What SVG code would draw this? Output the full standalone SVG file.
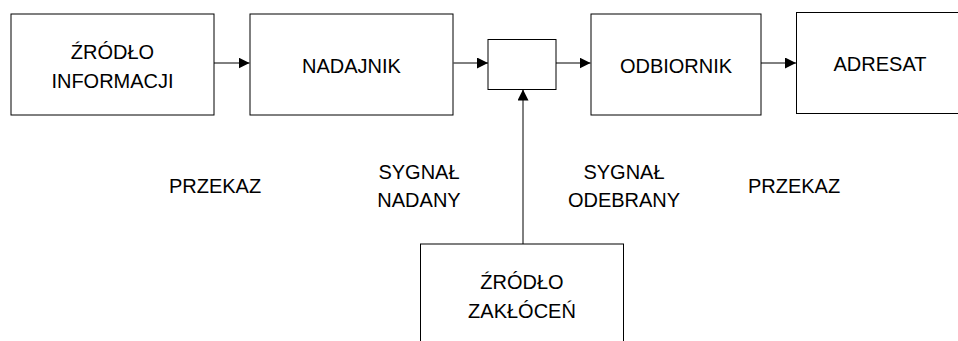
<svg xmlns="http://www.w3.org/2000/svg" width="958" height="341" viewBox="0 0 958 341">
<style>
.box{fill:#fff;stroke:#000;stroke-width:1}
.t{font-family:"Liberation Sans",Arial,sans-serif;font-size:20px;fill:#000;text-anchor:middle}
.c{fill:none;stroke:#000;stroke-width:1;marker-end:url(#ah)}
</style>
<defs>
<marker id="ah" markerUnits="userSpaceOnUse" markerWidth="11" markerHeight="11" viewBox="0 0 10 10" refX="10" refY="5" orient="auto">
<path d="M0,0 L10,5 L0,10 Z" fill="#000"/>
</marker>
</defs>
<rect width="958" height="341" fill="#fff"/>
<g id="connectors">
<line class="c" x1="214" y1="63" x2="249.5" y2="63"/>
<line class="c" x1="453.5" y1="63" x2="488" y2="63"/>
<line class="c" x1="556" y1="63" x2="590.5" y2="63"/>
<line class="c" x1="760.5" y1="63" x2="796" y2="63"/>
<line class="c" x1="523" y1="244" x2="523" y2="89.5"/>
</g>
<g id="zrodlo-informacji">
<rect class="box" x="11" y="14" width="203" height="101"/>
<text class="t" x="112.5" y="59">ŹRÓDŁO</text>
<text class="t" x="112.5" y="88">INFORMACJI</text>
</g>
<g id="nadajnik">
<rect class="box" x="250" y="14" width="203" height="101"/>
<text class="t" x="351.5" y="72.5">NADAJNIK</text>
</g>
<g id="kanal">
<rect class="box" x="488" y="39.5" width="68" height="50"/>
</g>
<g id="odbiornik">
<rect class="box" x="591" y="14" width="170" height="101"/>
<text class="t" x="676" y="72.5">ODBIORNIK</text>
</g>
<g id="adresat">
<rect class="box" x="796.5" y="12.5" width="168" height="101"/>
<text class="t" x="880" y="70.5">ADRESAT</text>
</g>
<g id="zrodlo-zaklocen">
<rect class="box" x="420.5" y="244" width="203" height="120"/>
<text class="t" x="522" y="289">ŹRÓDŁO</text>
<text class="t" x="522" y="318">ZAKŁÓCEŃ</text>
</g>
<g id="labels">
<text class="t" x="215" y="192.5">PRZEKAZ</text>
<text class="t" x="419" y="178.5">SYGNAŁ</text>
<text class="t" x="419" y="207">NADANY</text>
<text class="t" x="624" y="178.5">SYGNAŁ</text>
<text class="t" x="624" y="207">ODEBRANY</text>
<text class="t" x="794" y="192.5">PRZEKAZ</text>
</g>
</svg>
